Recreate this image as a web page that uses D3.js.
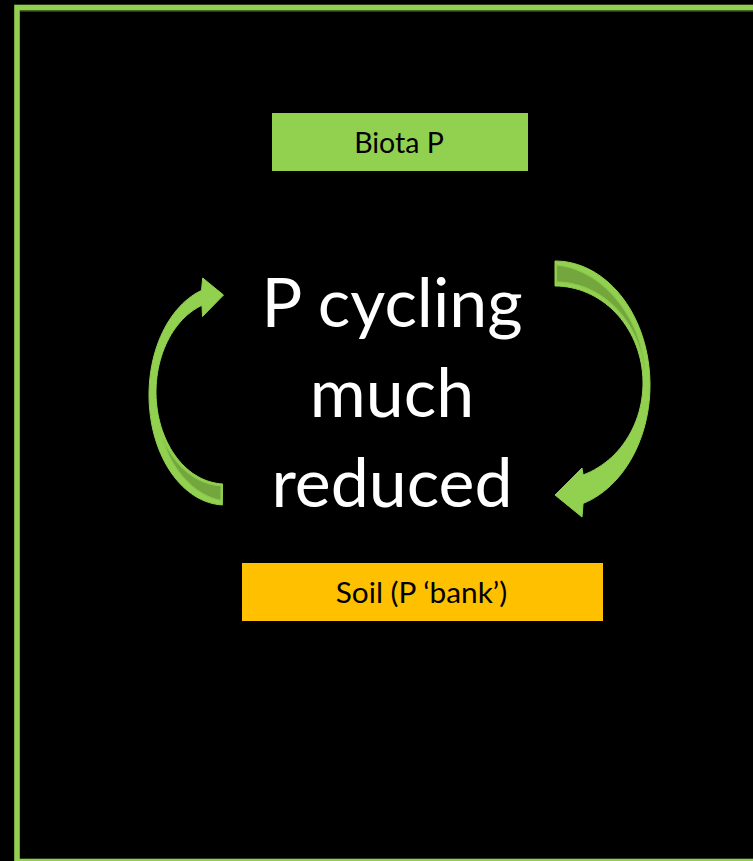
<!DOCTYPE html>
<html>
<head>
<meta charset="utf-8">
<script src="https://cdn.jsdelivr.net/npm/d3@7"></script>
<style>
  html, body { margin: 0; padding: 0; background: #000; }
  svg { display: block; }
</style>
</head>
<body>
<script>
// ---- content ----
const boxLabels = ["Biota P", "Soil (P \u2018bank\u2019)"];
const centerLines = ["P cycling", "much", "reduced"];
const arrowNames = ["up (soil \u2192 biota)", "down (biota \u2192 soil)"];

// ---- layout ----
const W = 753, H = 861;
const GREEN = "#92d050", DARKGREEN = "#74a63e", YELLOW = "#ffc000";
const FONT = "Lato, 'Open Sans', 'DejaVu Sans', sans-serif";

const svg = d3.select("body").append("svg").attr("width", W).attr("height", H);
svg.append("rect").attr("width", W).attr("height", H).attr("fill", "#000");

// frame
svg.append("rect").attr("x", 17).attr("y", 7.5).attr("width", 800).attr("height", 854)
  .attr("fill", "none").attr("stroke", GREEN).attr("stroke-width", 5.6);
svg.append("line").attr("x1", 20).attr("x2", W).attr("y1", 10.8).attr("y2", 10.8)
  .attr("stroke", "#4e7a2a").attr("stroke-width", 1.2);

// boxes
const boxGeom = [
  {x0: 272, x1: 528, y0: 113, y1: 171, fill: GREEN, base: 153, size: 28.5},
  {x0: 242, x1: 603, y0: 563, y1: 621, fill: YELLOW, base: 603, size: 29.8}
];
boxLabels.forEach((lab, i) => {
  const g = boxGeom[i];
  svg.append("rect").attr("x", g.x0).attr("y", g.y0)
    .attr("width", g.x1 - g.x0).attr("height", g.y1 - g.y0).attr("fill", g.fill);
  svg.append("text").attr("x", (g.x0 + g.x1) / 2 - 1).attr("y", g.base)
    .attr("text-anchor", "middle").attr("font-family", FONT)
    .attr("font-size", g.size).attr("fill", "#000").text(lab);
});

// center text
const yLine = d3.scalePoint().domain(centerLines).range([327, 507]);
svg.selectAll("text.center").data(centerLines).join("text")
  .attr("class", "center")
  .attr("x", 392).attr("y", d => yLine(d))
  .attr("text-anchor", "middle").attr("font-family", FONT)
  .attr("font-size", 68).attr("fill", "#fff").text(d => d);

// ---- curved arrows ----
const rad = d => d * Math.PI / 180;
function ell(e, t) { return [e.cx + e.rx * Math.cos(rad(t)), e.cy + e.ry * Math.sin(rad(t))]; }
function arc(e, t0, t1, n = 60) { return d3.range(n + 1).map(i => ell(e, t0 + (t1 - t0) * i / n)); }
const line = d3.line().curve(d3.curveLinear);

const arrows = [
  { // left arrow: tail at bottom, head at top pointing right
    outer: {cx: 225, cy: 395, rx: 76, ry: 110}, outerT: [252, 92],
    inner: {cx: 225, cy: 392, rx: 69, ry: 92}, innerT: [250.5, 92],
    head: {outerCorner: [202.7, 278], tip: [223.5, 295], innerCorner: [202.5, 316.5]},
    dark: [150, 92], darkHi: 0.78, darkLo: 0.08
  },
  { // right arrow: tail at top, head at bottom pointing left
    outer: {cx: 555, cy: 385, rx: 95, ry: 124}, outerT: [-90, 72.8],
    inner: {cx: 555, cy: 383, rx: 88, ry: 97}, innerT: [-90, 71.4],
    head: {outerCorner: [582, 517], tip: [555, 495], innerCorner: [582, 468]},
    dark: [-8, -90], darkHi: 0.84, darkLo: 0.16
  }
];

arrows.forEach((a, k) => {
  const outerPts = arc(a.outer, a.outerT[0], a.outerT[1]);
  const innerPts = arc(a.inner, a.innerT[0], a.innerT[1]);
  let pts;
  if (k === 0) {
    pts = [a.head.outerCorner, a.head.tip, a.head.innerCorner]
      .concat(innerPts).concat(outerPts.slice().reverse());
  } else {
    pts = outerPts.concat([a.head.outerCorner, a.head.tip, a.head.innerCorner])
      .concat(innerPts.slice().reverse());
  }
  svg.append("path").attr("d", line(pts) + "Z")
    .attr("fill", GREEN).attr("stroke", GREEN).attr("stroke-width", 1)
    .attr("stroke-linejoin", "round").attr("data-name", arrowNames[k]);

  // darker back face near the tail
  const n = 40, lo = [], hi = [];
  for (let i = 0; i <= n; i++) {
    const s = i / n;
    const t = a.dark[0] + (a.dark[1] - a.dark[0]) * s;
    const pi = ell(a.inner, t), po = ell(a.outer, t);
    const fl = a.darkLo * Math.pow(s, 0.6) + 0.1 * (1 - Math.pow(s, 0.6));
    const fh = fl + (a.darkHi - a.darkLo) * Math.pow(s, 0.7);
    lo.push([pi[0] + (po[0] - pi[0]) * fl, pi[1] + (po[1] - pi[1]) * fl]);
    hi.push([pi[0] + (po[0] - pi[0]) * fh, pi[1] + (po[1] - pi[1]) * fh]);
  }
  const tailInset = k === 0 ? -1.5 : 1.5;
  const dpts = lo.concat(hi.reverse());
  svg.append("path").attr("d", line(dpts) + "Z")
    .attr("fill", DARKGREEN).attr("stroke", "#8cc84c").attr("stroke-width", 1.2)
    .attr("transform", `translate(${tailInset},0)`);
});
</script>
</body>
</html>
